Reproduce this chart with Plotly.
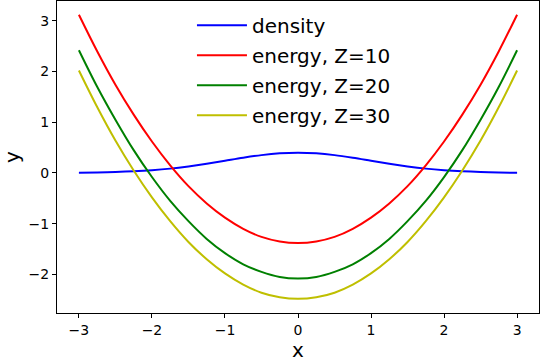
import plotly.graph_objects as go

# sample points along x
x = [-3.0, -2.75, -2.5, -2.25, -2.0, -1.75, -1.5, -1.25, -1.0, -0.75, -0.5, -0.25, 0.0,
     0.25, 0.5, 0.75, 1.0, 1.25, 1.5, 1.75, 2.0, 2.25, 2.5, 2.75, 3.0]

density = [0.004, 0.009, 0.018, 0.032, 0.054, 0.086, 0.130, 0.183, 0.242, 0.301, 0.352, 0.387, 0.399,
           0.387, 0.352, 0.301, 0.242, 0.183, 0.130, 0.086, 0.054, 0.032, 0.018, 0.009, 0.004]

energy_z10 = [3.12, 2.40, 1.74, 1.15, 0.62, 0.15, -0.26, -0.60, -0.88, -1.10, -1.26, -1.35, -1.38,
              -1.35, -1.26, -1.10, -0.88, -0.60, -0.26, 0.15, 0.62, 1.15, 1.74, 2.40, 3.12]

energy_z20 = [2.42, 1.70, 1.05, 0.45, -0.08, -0.55, -0.95, -1.30, -1.58, -1.80, -1.95, -2.05, -2.08,
              -2.05, -1.95, -1.80, -1.58, -1.30, -0.95, -0.55, -0.08, 0.45, 1.05, 1.70, 2.42]

energy_z30 = [2.02, 1.30, 0.64, 0.05, -0.48, -0.95, -1.36, -1.70, -1.98, -2.20, -2.36, -2.45, -2.48,
              -2.45, -2.36, -2.20, -1.98, -1.70, -1.36, -0.95, -0.48, 0.05, 0.64, 1.30, 2.02]

series = [
    ("density", density, "#0000ff"),
    ("energy, Z=10", energy_z10, "#ff0000"),
    ("energy, Z=20", energy_z20, "#008000"),
    ("energy, Z=30", energy_z30, "#bfbf00"),
]

fig = go.Figure()
for name, y, color in series:
    fig.add_trace(go.Scatter(x=x, y=y, name=name, mode="lines", legendgroup=name,
                             line=dict(color=color, width=2, shape="spline")))

axis_style = dict(showgrid=False, zeroline=False, showline=True, mirror=True,
                  linecolor="black", linewidth=1, ticks="outside", ticklen=4,
                  tickcolor="black", tickfont=dict(size=14, color="black"))

fig.update_xaxes(range=[-3.3, 3.3], tickvals=[-3, -2, -1, 0, 1, 2, 3],
                 ticktext=["\u22123", "\u22122", "\u22121", "0", "1", "2", "3"],
                 title=dict(text="x", font=dict(size=20, color="black"), standoff=4), **axis_style)
fig.update_yaxes(range=[-2.76, 3.39], tickvals=[-2, -1, 0, 1, 2, 3],
                 ticktext=["\u22122", "\u22121", "0", "1", "2", "3"],
                 title=dict(text="y", font=dict(size=20, color="black"), standoff=6), **axis_style)

fig.update_layout(
    width=540, height=363,
    margin=dict(l=57, r=1, t=1, b=50),
    plot_bgcolor="white", paper_bgcolor="white",
    font=dict(family="DejaVu Sans", color="black"),
    legend=dict(x=0.28, y=0.985, xanchor="left", yanchor="top", itemwidth=50,
                font=dict(size=20), tracegroupgap=1, bgcolor="rgba(0,0,0,0)"),
)

# drop the page's default body margin so the figure sits at the window's corner
fig.write_html("out.html", config={"displayModeBar": False},
               post_script="document.body.style.margin='0';")
